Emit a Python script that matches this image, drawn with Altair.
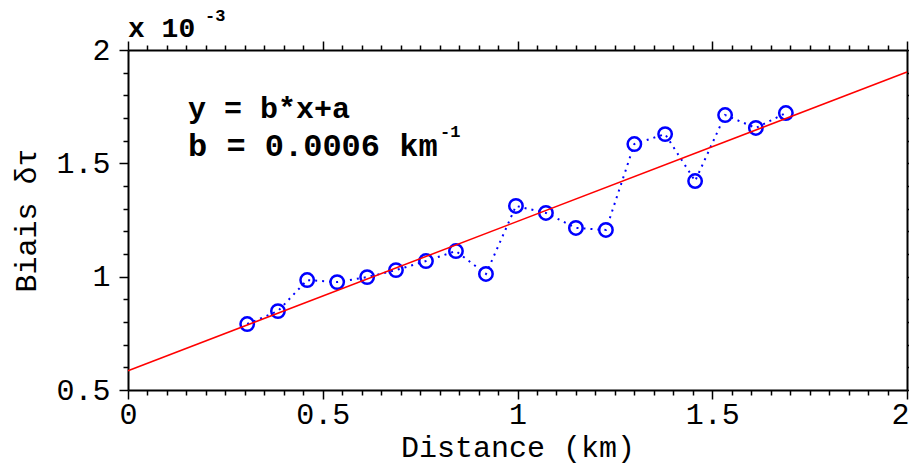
import altair as alt
import pandas as pd

# ---- data ----
distance = [0.306, 0.385, 0.460, 0.537, 0.614, 0.688, 0.765, 0.842, 0.919, 0.996,
            1.073, 1.150, 1.227, 1.300, 1.379, 1.456, 1.533, 1.612, 1.689]
bias = [0.791, 0.848, 0.985, 0.976, 0.998, 1.029, 1.069, 1.113, 1.012, 1.312,
        1.281, 1.215, 1.206, 1.585, 1.629, 1.422, 1.713, 1.656, 1.722]
fit_x = [0.0, 2.0]
fit_y = [0.585, 1.903]

x_ticks = [0.0, 0.05, 0.1, 0.15, 0.2, 0.25, 0.3, 0.35, 0.4, 0.45, 0.5, 0.55, 0.6, 0.65,
           0.7, 0.75, 0.8, 0.85, 0.9, 0.95, 1.0, 1.05, 1.1, 1.15, 1.2, 1.25, 1.3, 1.35,
           1.4, 1.45, 1.5, 1.55, 1.6, 1.65, 1.7, 1.75, 1.8, 1.85, 1.9, 1.95, 2.0]
y_ticks = [0.5, 0.6, 0.7, 0.8, 0.9, 1.0, 1.1, 1.2, 1.3, 1.4, 1.5, 1.6, 1.7, 1.8, 1.9, 2.0]

ann_text = ["x 10", "-3", "y = b*x+a", "b = 0.0006 km", "-1"]
ann_x = [0.0, 0.198, 0.154, 0.154, 0.801]
ann_y = [2.057, 2.128, 1.700, 1.532, 1.615]
ann_size = [28, 17, 30, 32, 17]

pts = pd.DataFrame({"d": distance, "b": bias})
fit = pd.DataFrame({"d": fit_x, "b": fit_y})
ann = pd.DataFrame({"t": ann_text, "d": ann_x, "b": ann_y, "s": ann_size})

FONT = "Liberation Mono"
MAJ = "abs(datum.value*2 - round(datum.value*2)) < 0.001"
LBL = MAJ + " ? toString(round(datum.value*2)/2) : ''"

xs = alt.Scale(domain=[0, 2], nice=False, zero=False)
ys = alt.Scale(domain=[0.5, 2], nice=False, zero=False)


def axis(orient, values, labels, title, lpad, tpad, last_right=False):
    kw = dict(
        orient=orient, values=values, labels=labels, labelOverlap=False,
        labelFlush=False,
        grid=False, domainColor="black", domainWidth=2, tickColor="black",
        tickWidth=1.5,
        tickSize={"condition": {"test": MAJ, "value": 9}, "value": 5},
        labelFont=FONT, labelFontSize=30, labelColor="black",
        titleFont=FONT, titleFontSize=30, titleColor="black",
        titleFontWeight="normal", labelPadding=lpad, titlePadding=tpad,
    )
    if labels:
        kw["labelExpr"] = LBL
    if last_right:
        kw["labelAlign"] = {"condition": {"test": "datum.value > 1.99", "value": "right"},
                            "value": "center"}
        kw["labelOffset"] = {"condition": {"test": "datum.value > 1.99", "value": 2},
                             "value": 0}
    kw["title"] = title if title else None
    return alt.Axis(**kw)


dotted = alt.Chart(pts).mark_line(
    color="#0000ff", strokeDash=[2, 5], strokeWidth=2
).encode(
    x=alt.X("d:Q", scale=xs,
            axis=axis("bottom", x_ticks, True, "Distance (km)", 0, 3, last_right=True)),
    y=alt.Y("b:Q", scale=ys, axis=axis("left", y_ticks, True, "Biais δτ", 9, 14)),
)

circles = alt.Chart(pts).mark_point(
    shape="circle", filled=False, color="#0000ff", size=180, strokeWidth=2.5, opacity=1
).encode(
    x=alt.X("d:Q", scale=xs, axis=None),
    y=alt.Y("b:Q", scale=ys, axis=None),
)

line = alt.Chart(fit).mark_line(color="#ff0000", strokeWidth=1.5).encode(
    x=alt.X("d:Q", scale=xs, axis=axis("top", x_ticks, False, None, 0, 0)),
    y=alt.Y("b:Q", scale=ys, axis=axis("right", y_ticks, False, None, 0, 0)),
)

text = alt.Chart(ann).mark_text(
    font=FONT, fontWeight="bold", align="left", baseline="alphabetic", color="black"
).encode(
    x=alt.X("d:Q", scale=xs, axis=None),
    y=alt.Y("b:Q", scale=ys, axis=None),
    text="t:N",
    size=alt.Size("s:Q", scale=None, legend=None),
)

chart = alt.layer(dotted, circles, line, text).resolve_axis(
    x="independent", y="independent"
).properties(
    width=779, height=340,
    autosize=alt.AutoSizeParams(type="none"),
    padding={"left": 120, "top": 42, "right": 2, "bottom": 75},
    background="white",
).configure_view(stroke=None)

chart.save("out.html", embed_options={"renderer": "svg", "actions": False})
